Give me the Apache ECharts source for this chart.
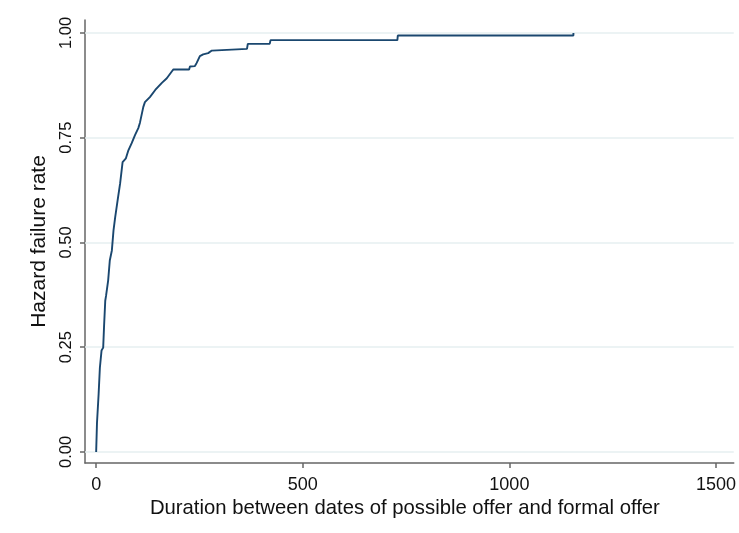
<!DOCTYPE html>
<html>
<head>
<meta charset="utf-8">
<script src="https://cdn.jsdelivr.net/npm/echarts@6/dist/echarts.min.js"></script>
<style>html,body{margin:0;padding:0;background:#fff;}#chart{width:739px;height:533px;}</style>
</head>
<body>
<div id="chart"></div>
<script>
// Vertices of the failure curve: duration (days)
const durations = [0, 2, 6, 9, 13, 17, 19, 22, 24, 29, 33, 38, 42, 46, 52, 58, 64, 72, 78, 86, 94, 102, 106, 114, 118, 130, 143, 159, 171, 183, 187, 225, 227, 239, 243, 251, 259, 271, 280, 283, 365, 367, 420, 422, 729, 730, 1155, 1155];
// ... and the cumulative failure rate at each vertex
const failureRate = [0, 0.069, 0.139, 0.201, 0.242, 0.249, 0.297, 0.361, 0.373, 0.409, 0.457, 0.481, 0.529, 0.56, 0.601, 0.641, 0.692, 0.701, 0.72, 0.737, 0.756, 0.773, 0.786, 0.823, 0.835, 0.847, 0.864, 0.881, 0.892, 0.908, 0.913, 0.913, 0.92, 0.921, 0.928, 0.945, 0.949, 0.952, 0.958, 0.962, 0.962, 0.974, 0.974, 0.983, 0.983, 0.994, 0.994, 1.0];
const xTicks = [0, 500, 1000, 1500];
const yTicks = [0, 0.25, 0.5, 0.75, 1.0];

const chart = echarts.init(document.getElementById('chart'), null, {renderer: 'canvas'});
const font = '"Liberation Sans", Arial, sans-serif';
const axisColor = '#666666';
chart.setOption({
  animation: false,
  backgroundColor: '#ffffff',
  grid: {left: 85, right: 4, top: 20, bottom: 70, containLabel: false},
  xAxis: {
    type: 'value', min: -27, max: 1543,
    name: 'Duration between dates of possible offer and formal offer',
    nameLocation: 'middle', nameGap: 26,
    nameTextStyle: {fontFamily: font, fontSize: 20.3, color: '#111', padding: [0, 9, 0, 0]},
    axisLine: {show: true, onZero: false, lineStyle: {color: axisColor, width: 1.5}},
    axisTick: {show: true, length: 5, customValues: xTicks, lineStyle: {color: axisColor, width: 1.5}},
    axisLabel: {customValues: xTicks, fontFamily: font, fontSize: 18, color: '#111', margin: 13,
      formatter: v => String(v)},
    splitLine: {show: false}
  },
  yAxis: {
    type: 'value', min: -0.0263, max: 1.031,
    name: 'Hazard failure rate',
    nameLocation: 'middle', nameGap: 30, nameRotate: 90,
    nameTextStyle: {fontFamily: font, fontSize: 21, color: '#111'},
    axisLine: {show: true, onZero: false, lineStyle: {color: axisColor, width: 1.5}},
    axisTick: {show: true, length: 5, customValues: yTicks, lineStyle: {color: axisColor, width: 1.5}},
    axisLabel: {customValues: yTicks, rotate: 90, fontFamily: font, fontSize: 16.5, color: '#111', margin: 10,
      formatter: v => v.toFixed(2)},
    splitLine: {show: false}
  },
  series: [{
    type: 'line',
    data: durations.map((d, i) => [d, failureRate[i]]),
    showSymbol: false,
    lineStyle: {color: '#1a476f', width: 1.9},
    z: 3,
    markLine: {
      silent: true, symbol: 'none', z: 1,
      label: {show: false},
      lineStyle: {color: '#e6eff1', width: 1.5, type: 'solid'},
      data: yTicks.map(v => ({yAxis: v}))
    }
  }]
});
</script>
</body>
</html>
